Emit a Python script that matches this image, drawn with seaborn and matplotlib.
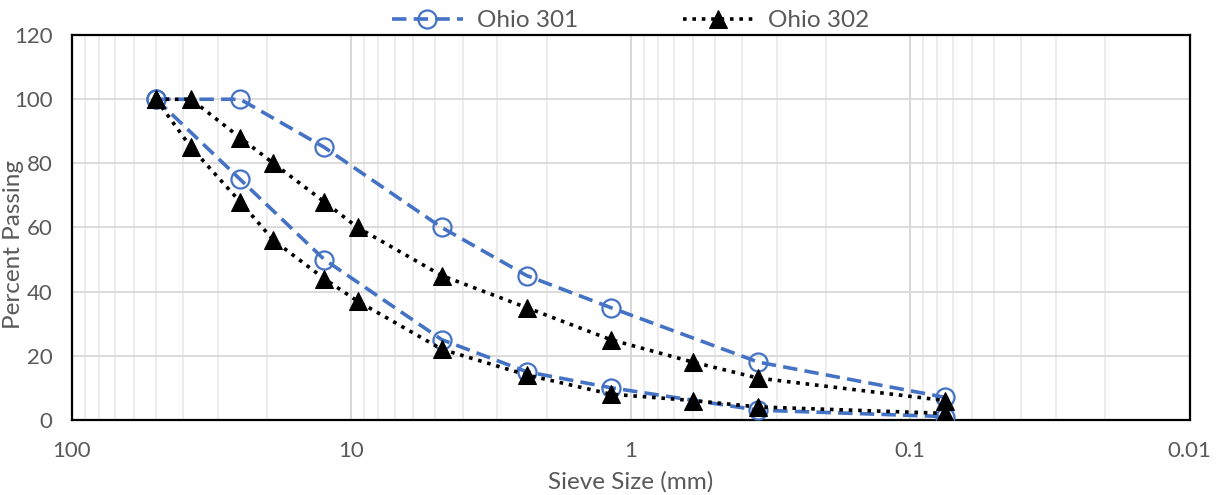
import numpy as np
import pandas as pd
import matplotlib
matplotlib.use("Agg")
import matplotlib.pyplot as plt
import matplotlib.ticker as mticker
import seaborn as sns

# sieve sizes (mm) and percent passing
sizes_301 = [50, 25, 12.5, 4.75, 2.36, 1.18, 0.35, 0.075]
upper_301 = [100, 100, 85, 60, 45, 35, 18, 7]
lower_301 = [100, 75, 50, 25, 15, 10, 3, 1]

sizes_302 = [50, 37.5, 25, 19, 12.5, 9.5, 4.75, 2.36, 1.18, 0.6, 0.35, 0.075]
upper_302 = [100, 100, 88, 80, 68, 60, 45, 35, 25, 18, 13, 6]
lower_302 = [100, 85, 68, 56, 44, 37, 22, 14, 8, 6, 4, 2]

y_ticks = [0, 20, 40, 60, 80, 100, 120]
x_ticks = [100, 10, 1, 0.1, 0.01]

sns.set_style("white")
plt.rcParams["font.family"] = ["Lato", "DejaVu Sans"]

gray = "#595959"
blue = "#4472C4"

fig = plt.figure(figsize=(12.2, 4.95), dpi=100)
ax = fig.add_axes([0.059, 0.152, 0.916, 0.777])

#ohio 301 - dashed blue, open circles
for i, vals in enumerate([upper_301, lower_301]):
    d = pd.DataFrame({"size": sizes_301, "passing": vals})
    sns.lineplot(
        data=d, x="size", y="passing", ax=ax,
        color=blue, linestyle=(0, (4, 2)), linewidth=2.6,
        marker="o", markersize=13, markerfacecolor="none",
        markeredgecolor=blue, markeredgewidth=1.6,
        sort=False, estimator=None,
        label="Ohio 301" if i == 0 else None, zorder=3
    )

#ohio 302 - dotted black, filled triangles
for i, vals in enumerate([upper_302, lower_302]):
    d = pd.DataFrame({"size": sizes_302, "passing": vals})
    sns.lineplot(
        data=d, x="size", y="passing", ax=ax,
        color="black", linestyle=(0, (1, 1.6)), linewidth=2.6,
        marker="^", markersize=13, markerfacecolor="black",
        markeredgecolor="black",
        sort=False, estimator=None,
        label="Ohio 302" if i == 0 else None, zorder=4
    )

ax.set_xscale("log")
ax.set_xlim(100, 0.01)
ax.set_ylim(0, 120)
ax.set_yticks(y_ticks)
ax.set_xticks(x_ticks)
ax.xaxis.set_major_formatter(mticker.FuncFormatter(lambda v, p: f"{v:g}"))
ax.xaxis.set_minor_locator(mticker.LogLocator(base=10, subs=np.arange(2, 10)))
ax.xaxis.set_minor_formatter(mticker.NullFormatter())

ax.grid(True, which="major", axis="x", color="#d4d4d4", linewidth=1.3)
ax.grid(True, which="minor", axis="x", color="#ececec", linewidth=1.3)
ax.grid(True, which="major", axis="y", color="#d9d9d9", linewidth=1.3)
ax.set_axisbelow(True)

for s in ax.spines.values():
    s.set_color("black")
    s.set_linewidth(1.6)

ax.tick_params(axis="both", which="major", direction="in", length=7,
               width=1.6, color="black", labelcolor=gray, labelsize=16)
ax.tick_params(axis="x", which="major", pad=15)
ax.tick_params(axis="x", which="minor", direction="in", length=4,
               width=1.3, color="black")
ax.tick_params(axis="y", which="major", pad=14)

ax.set_xlabel("Sieve Size (mm)", color=gray, fontsize=17.5)
ax.xaxis.set_label_coords(0.5, -0.133)
ax.set_ylabel("Percent Passing", color=gray, fontsize=17.5)
ax.yaxis.set_label_coords(-0.0425, 0.455)

ax.legend(loc="lower center", bbox_to_anchor=(0.5, 0.985), ncol=2,
          frameon=False, fontsize=17.5, handlelength=2.9, columnspacing=4.3,
          handletextpad=0.6, borderaxespad=0, labelcolor=gray)

plt.savefig("out.png", dpi=100)
